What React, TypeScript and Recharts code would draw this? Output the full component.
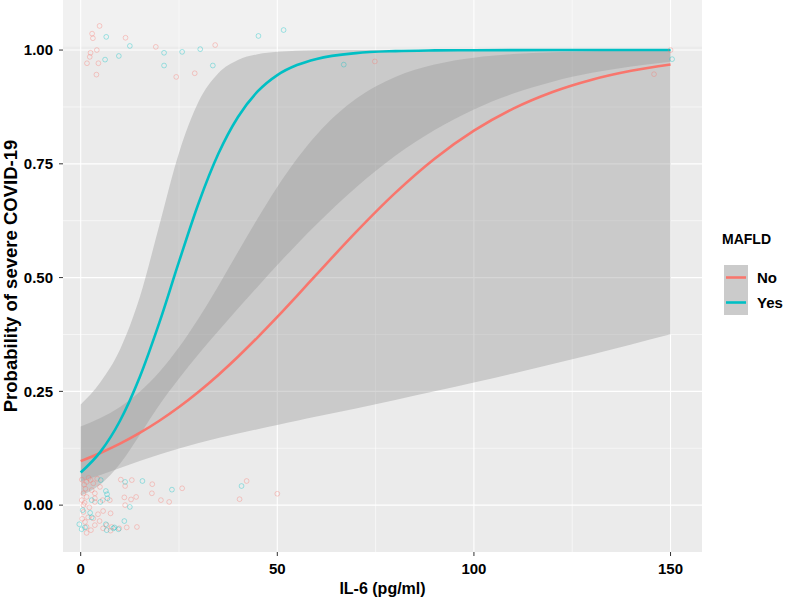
import { ComposedChart, Area, Line, Scatter, XAxis, YAxis, CartesianGrid, ReferenceArea } from "recharts";

// fitted curves, read at these IL-6 values
const curveX = [0, 5, 10, 15, 20, 25, 30, 35, 40, 45, 50, 55, 60, 70, 80, 90, 100, 110, 120, 130, 140, 150];

const noFit = [0.0967, 0.1145, 0.135, 0.1586, 0.1854, 0.2156, 0.2492, 0.2861, 0.326, 0.3688, 0.4136, 0.46, 0.507, 0.5999, 0.6861, 0.7612, 0.8229, 0.8714, 0.908, 0.935, 0.9545, 0.9684];
const noLow = [0.0519, 0.066, 0.0814, 0.0968, 0.1115, 0.1246, 0.1365, 0.1473, 0.1574, 0.167, 0.1762, 0.1854, 0.1945, 0.2126, 0.2309, 0.25, 0.2693, 0.2893, 0.31, 0.3312, 0.353, 0.3754];
const noHigh = [0.173, 0.1914, 0.2158, 0.249, 0.2923, 0.3467, 0.4107, 0.4818, 0.5563, 0.63, 0.6993, 0.7613, 0.8141, 0.8928, 0.9409, 0.9682, 0.9832, 0.9912, 0.9954, 0.9976, 0.9988, 0.9994];

const yesFit = [0.0717, 0.1171, 0.1854, 0.281, 0.401, 0.535, 0.664, 0.772, 0.853, 0.909, 0.945, 0.967, 0.9805, 0.9933, 0.9977, 0.9992, 0.9997, 0.9999, 1, 1, 1, 1];
const yesLow = [0.0206, 0.0454, 0.0907, 0.154, 0.22, 0.278, 0.332, 0.3825, 0.432, 0.48, 0.5277, 0.5735, 0.6173, 0.698, 0.7675, 0.8243, 0.8696, 0.9044, 0.9306, 0.95, 0.9641, 0.9744];
const yesHigh = [0.221, 0.27, 0.342, 0.456, 0.615, 0.774, 0.887, 0.949, 0.978, 0.9908, 0.9962, 0.9984, 0.9994, 0.9999, 1, 1, 1, 1, 1, 1, 1, 1];

// jittered observations [IL-6, outcome]
const noPoints: [number, number][] = [
  [4.8, 1.053], [2.9, 1.036], [3.1, 1.026], [11.4, 1.027], [4.1, 1.0], [2.5, 0.994], [2.3, 0.985],
  [1.6, 0.971], [4.5, 0.971], [4.0, 0.946], [19.1, 1.007], [34.2, 1.011], [24.3, 0.941], [29.0, 0.949],
  [74.8, 0.975], [145.8, 0.947], [150, 1.0],
  [0.3, 0.056], [1.5, 0.051], [2.5, 0.055], [3.2, 0.048], [1.2, 0.036], [0.7, 0.026], [0.3, 0.011],
  [1.5, 0.018], [3.6, 0.026], [3.6, 0.015], [4.9, 0.04], [10.2, 0.056], [11.3, 0.042], [13.0, 0.055],
  [18.2, 0.046], [11.1, 0.017], [12.8, 0.0125], [14.1, 0.018], [11.3, 0.0], [18.1, 0.026], [20.4, 0.011],
  [22.5, 0.007], [25.8, 0.037], [3.6, 0.007], [5.6, 0.011], [7.4, 0.011], [5.7, -0.013], [0.7, 0.0],
  [0.7, -0.015], [1.9, -0.027], [1.1, -0.037], [3.2, -0.029], [3.6, -0.044], [1.5, -0.048], [1.5, -0.061],
  [7.6, -0.018], [5.7, -0.051], [7.9, -0.048], [7.6, -0.056], [9.8, -0.051], [11.7, -0.049], [14.3, -0.048],
  [6.6, -0.044], [40.4, 0.013], [42.2, 0.053], [50.0, 0.025],
  [2.0, 0.06], [4.2, 0.058], [0.9, 0.045], [2.8, 0.033], [1.0, 0.005], [2.2, -0.005], [4.4, -0.02],
  [0.4, -0.03], [2.6, -0.055], [4.8, -0.035],
];
const yesPoints: [number, number][] = [
  [6.5, 1.029], [12.5, 1.009], [9.7, 0.987], [6.2, 0.979], [21.2, 0.994], [25.8, 0.996], [30.4, 1.002],
  [21.2, 0.966], [33.6, 0.966], [45.2, 1.031], [51.6, 1.044], [66.9, 0.968], [150.4, 0.98],
  [11.3, 0.051], [15.7, 0.053], [23.2, 0.034], [6.4, 0.031], [6.7, 0.024], [6.8, 0.015], [2.8, 0.011],
  [5.0, 0.007], [0.5, -0.011], [2.4, -0.017], [2.8, -0.027], [12.5, -0.004], [-0.35, -0.042], [0.25, -0.053],
  [1.1, -0.049], [6.4, -0.042], [8.3, -0.051], [8.6, -0.049], [9.6, -0.053], [11.1, -0.035], [6.6, -0.055],
  [40.9, 0.042], [5.1, 0.055],
];

const xTicks = [0, 50, 100, 150];
const xMinor = [25, 75, 125];
const yTicks = [0, 0.25, 0.5, 0.75, 1];
const yMinor = [0.125, 0.375, 0.625, 0.875];

const RED = "#F8766D";
const TEAL = "#00BFC4";
const FONT = "'Liberation Sans', Arial, Helvetica, sans-serif";

const noCurve = curveX.map((x, i) => ({ x, fit: noFit[i], band: [noLow[i], noHigh[i]] }));
const yesCurve = curveX.map((x, i) => ({ x, fit: yesFit[i], band: [yesLow[i], yesHigh[i]] }));
const toXY = (pts: [number, number][]) => pts.map(([x, y]) => ({ x, y }));

const ring = (color: string) => (props: any) =>
  <circle cx={props.cx} cy={props.cy} r={2.4} fill="none" stroke={color} strokeOpacity={0.5} strokeWidth={0.7} />;

const tickStyle = { fill: "#000", fontSize: 15, fontWeight: 700, fontFamily: FONT };

export default function App() {
  return (
    <div style={{ position: "relative", width: 787, height: 601, background: "#fff" }}>
      <style>{`body{margin:0}`}</style>
      <ComposedChart width={787} height={601} margin={{ top: 0, right: 85, bottom: 0, left: 0 }}>
        <CartesianGrid fill="#EBEBEB" stroke="#FFFFFF" strokeWidth={0.55} verticalValues={xMinor} horizontalValues={yMinor} />
        <CartesianGrid stroke="#FFFFFF" strokeWidth={1.1} verticalValues={xTicks} horizontalValues={yTicks} />
        <XAxis dataKey="x" type="number" domain={[-4.5, 158]} allowDataOverflow ticks={xTicks}
          height={49} axisLine={false} tickSize={4} tickMargin={7}
          tickLine={{ stroke: "#333", strokeWidth: 1 }} tick={tickStyle} />
        <YAxis type="number" domain={[-0.103, 1.11]} allowDataOverflow ticks={yTicks} width={63}
          tickFormatter={(v: number) => v.toFixed(2)} axisLine={false} tickSize={4} tickMargin={6}
          tickLine={{ stroke: "#333", strokeWidth: 1 }} tick={tickStyle} />
        <ReferenceArea y1={1.007} y2={1.11} fill="#FFFFFF" fillOpacity={0.3} stroke="none" ifOverflow="hidden" />
        <Scatter data={toXY(noPoints)} dataKey="y" shape={ring(RED)} isAnimationActive={false} />
        <Scatter data={toXY(yesPoints)} dataKey="y" shape={ring(TEAL)} isAnimationActive={false} />
        <Area data={noCurve} dataKey="band" type="monotone" fill="#999999" fillOpacity={0.4} stroke="none" isAnimationActive={false} />
        <Area data={yesCurve} dataKey="band" type="monotone" fill="#999999" fillOpacity={0.4} stroke="none" isAnimationActive={false} />
        <Line data={noCurve} dataKey="fit" type="monotone" stroke={RED} strokeWidth={2.6} dot={false} isAnimationActive={false} />
        <Line data={yesCurve} dataKey="fit" type="monotone" stroke={TEAL} strokeWidth={2.6} dot={false} isAnimationActive={false} />
      </ComposedChart>
      <svg width={787} height={601} style={{ position: "absolute", left: 0, top: 0, pointerEvents: "none" }}
        fontFamily={FONT} fontWeight={700}>
        <text transform="translate(17,276) rotate(-90)" textAnchor="middle" fontSize={18.5}>Probability of severe COVID-19</text>
        <text x={382.5} y={594} textAnchor="middle" fontSize={16}>IL-6 (pg/ml)</text>
        <text x={722} y={244} fontSize={14}>MAFLD</text>
        <rect x={724} y={265} width={24} height={25} fill="#CBCBCB" />
        <rect x={724} y={290} width={24} height={25} fill="#CBCBCB" />
        <line x1={726} x2={746} y1={277.5} y2={277.5} stroke={RED} strokeWidth={2.6} />
        <line x1={726} x2={746} y1={302.5} y2={302.5} stroke={TEAL} strokeWidth={2.6} />
        <text x={757} y={283} fontSize={15}>No</text>
        <text x={757} y={308} fontSize={15}>Yes</text>
      </svg>
    </div>
  );
}
